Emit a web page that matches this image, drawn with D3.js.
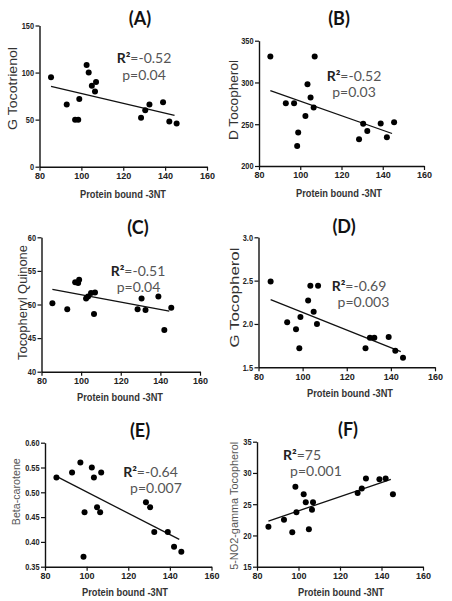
<!DOCTYPE html>
<html><head><meta charset="utf-8">
<script src="https://cdn.jsdelivr.net/npm/d3@7"></script>
<style>body{margin:0;background:#fff}svg{display:block}</style>
</head><body>
<svg id="chart" width="452" height="601"></svg>
<script>
// ---------- data ----------
const xTickValues = [80, 100, 120, 140, 160];
const proteinBound3NT = [85.5, 93, 97, 98.5, 99, 102.5, 103.5, 105, 106.5, 107, 128.5, 130.5, 132.5, 139, 142, 145.5];
const gTocotrienol   = [95, 66, 50, 50, 72, 108, 100, 86, 80, 90, 52, 60, 66, 68.5, 48, 46];
const dTocopherol    = [331, 275, 275, 224, 240, 260, 298, 282, 270, 331, 232, 250.5, 242, 251, 234.5, 252.5];
const tocoQuinone    = [50.2, 49.3, 53.3, 53.2, 53.7, 50.9, 51.2, 51.7, 48.6, 51.8, 49.3, 50.9, 49.2, 51.2, 46.2, 49.5];
const gTocopherol    = [2.49, 2.02, 1.94, 1.72, 2.08, 2.27, 2.44, 2.14, 2.0, 2.44, 1.72, 1.84, 1.84, 1.85, 1.69, 1.61];
const betaCarotene   = [0.53, 0.54, 0.56, 0.37, 0.46, 0.55, 0.53, 0.47, 0.46, 0.54, 0.48, 0.47, 0.42, 0.42, 0.39, 0.38];
const no2gTocopherol = [21.4, 22.5, 20.5, 27.8, 23.7, 26.6, 25.3, 21.0, 24.1, 25.3, 26.8, 27.5, 29.1, 29.0, 29.1, 26.6];
const seriesValues = [gTocotrienol, dTocopherol, tocoQuinone, gTocopherol, betaCarotene, no2gTocopherol];

const panelLetters = ["(A)", "(B)", "(C)", "(D)", "(E)", "(F)"];
const yTitles = ["G Tocotrienol", "D Tocopherol", "Tocopheryl Quinone", "G Tocopherol", "Beta-carotene", "5-NO2-gamma Tocopherol"];
const xTitle = "Protein bound -3NT";
const yTickValues = [
  [0, 50, 100, 150],
  [200, 250, 300, 350],
  [40, 45, 50, 55, 60],
  [1.5, 2.0, 2.5, 3.0],
  [0.35, 0.40, 0.45, 0.50, 0.55, 0.60],
  [15, 20, 25, 30, 35]
];
const yTickFormats = ["d", "d", "d", ".1f", ".2f", "d"];
const r2Labels = ["=-0.52", "=-0.52", "=-0.51", "=-0.69", "=-0.64", "=75"];
const pLabels  = ["p=0.04", "p=0.03", "p=0.04", "p=0.003", "p=0.007", "p=0.001"];
const fitX     = [85.5, 144.5];
const fitStart = [85.4, 290.3, 52.25, 2.28, 0.532, 22.3];
const fitEnd   = [54.4, 238.9, 49.0, 1.68, 0.405, 28.97];

// ---------- layout ----------
const layout = [
  {x0: 39.5, x1: 207, yb: 166.7, yt: 25.5, title: [140, 25], yt_: [17, 88.5, 83, 12], xt: [123, 198], r: [144, 63], p: [144, 80]},
  {x0: 259, x1: 424, yb: 166, yt: 40.7, title: [339, 25], yt_: [238, 100, 80, 12], xt: [339, 197], r: [354, 81], p: [354, 97]},
  {x0: 41.5, x1: 200, yb: 371.7, yt: 237.3, title: [138, 234], yt_: [26.5, 302.5, 115, 12], xt: [120, 401], r: [138, 276], p: [138.5, 292]},
  {x0: 258.5, x1: 435, yb: 367.3, yt: 237.3, title: [344, 233], yt_: [239, 297.5, 100, 12], xt: [350, 397], r: [359, 291], p: [363.5, 307]},
  {x0: 45, x1: 211.5, yb: 566.7, yt: 442.7, title: [140, 437], yt_: [20, 491.7, 67, 11], xt: [125, 596], r: [150.5, 477], p: [156, 493]},
  {x0: 257, x1: 423, yb: 566.7, yt: 441.7, title: [348, 436], yt_: [237.5, 505.8, 128, 11], xt: [341, 596], r: [302, 460], p: [316, 476]}
];
const TICK = 4, YPAD = 1.5, SQ = 0.82;

const svg = d3.select("#chart");
svg.append("rect").attr("width", 452).attr("height", 601).attr("fill", "#fff");

seriesValues.forEach((vals, i) => {
  const L = layout[i];
  const yt = yTickValues[i];
  const x = d3.scaleLinear().domain([xTickValues[0], xTickValues[xTickValues.length - 1]]).range([L.x0, L.x1]);
  const y = d3.scaleLinear().domain([yt[0], yt[yt.length - 1]]).range([L.yb, L.yt]);
  const g = svg.append("g");

  // axes
  const xa = g.append("g").attr("transform", `translate(0,${L.yb})`)
    .call(d3.axisBottom(x).tickValues(xTickValues).tickSize(TICK).tickSizeOuter(0).tickPadding(2).tickFormat(d3.format("d")));
  const ya = g.append("g").attr("transform", `translate(${L.x0},0)`)
    .call(d3.axisLeft(y).tickValues(yt).tickSize(TICK).tickSizeOuter(0).tickPadding(YPAD).tickFormat(d3.format(yTickFormats[i])));
  [xa, ya].forEach(a => {
    a.select(".domain").attr("stroke", "#111").attr("stroke-width", 1.4);
    a.selectAll(".tick line").attr("stroke", "#111").attr("stroke-width", 1.2);
    a.selectAll(".tick text").attr("fill", "#222").attr("font-family", "'Liberation Sans', Arial, sans-serif")
      .attr("font-size", 9).attr("font-weight", "bold");
  });
  // narrower y tick labels, as in the reference
  ya.selectAll(".tick text").attr("transform", `scale(${SQ},1)`).attr("x", -(TICK + YPAD) / SQ);

  // fit line
  g.append("line")
    .attr("x1", x(fitX[0])).attr("y1", y(fitStart[i]))
    .attr("x2", x(fitX[1])).attr("y2", y(fitEnd[i]))
    .attr("stroke", "#111").attr("stroke-width", 1.3);

  // points
  g.selectAll("circle.pt").data(vals).join("circle")
    .attr("cx", (d, k) => x(proteinBound3NT[k])).attr("cy", d => y(d))
    .attr("r", 3).attr("fill", "#000");

  // panel letter
  g.append("text").attr("x", L.title[0]).attr("y", L.title[1]).attr("text-anchor", "middle")
    .attr("font-family", "Lato, 'Open Sans', sans-serif").attr("font-weight", "bold").attr("font-size", 18)
    .attr("fill", "#111").text(panelLetters[i]);

  // y title
  g.append("text")
    .attr("transform", `translate(${L.yt_[0]},${L.yt_[1]}) rotate(-90)`)
    .attr("text-anchor", "middle")
    .attr("font-family", "'Liberation Sans', Arial, sans-serif").attr("font-size", L.yt_[3])
    .attr("fill", i >= 4 ? "#555" : "#333")
    .attr("textLength", L.yt_[2]).attr("lengthAdjust", "spacingAndGlyphs")
    .text(yTitles[i]);

  // x title
  g.append("text").attr("x", L.xt[0]).attr("y", L.xt[1]).attr("text-anchor", "middle")
    .attr("font-family", "'Liberation Sans', Arial, sans-serif").attr("font-size", 11).attr("font-weight", "bold")
    .attr("fill", "#333").attr("textLength", 86).attr("lengthAdjust", "spacingAndGlyphs")
    .text(xTitle);

  // annotation
  const rt = g.append("text").attr("x", L.r[0]).attr("y", L.r[1]).attr("text-anchor", "middle")
    .attr("font-family", "Lato, 'Open Sans', sans-serif").attr("font-size", 14);
  rt.append("tspan").attr("font-weight", "bold").attr("fill", "#222").text("R\u00B2");
  rt.append("tspan").attr("fill", "#555").text(r2Labels[i]);
  g.append("text").attr("x", L.p[0]).attr("y", L.p[1]).attr("text-anchor", "middle")
    .attr("font-family", "Lato, 'Open Sans', sans-serif").attr("font-size", 14)
    .attr("fill", "#555").text(pLabels[i]);
});
</script>
</body></html>
